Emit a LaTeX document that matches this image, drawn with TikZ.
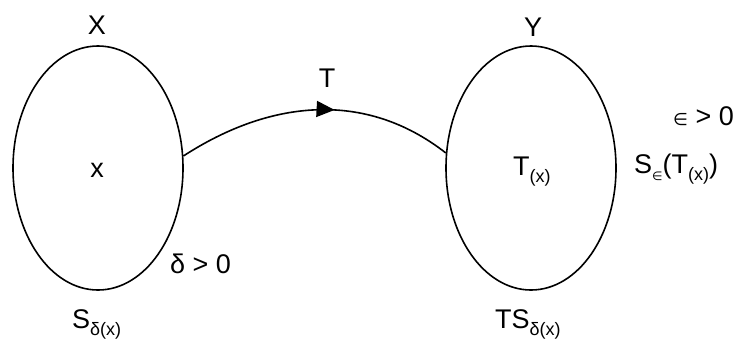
\documentclass[tikz,border=0pt]{standalone}
\usepackage{fontspec}
\setmainfont{Liberation Sans}
\newfontfamily\symfont{DejaVu Sans}
\usetikzlibrary{shapes.geometric,arrows.meta,decorations.markings}
\newcommand\subx[1]{\raisebox{-7pt}{\fontsize{18}{18}\selectfont #1}}
\newcommand\elsym{{\symfont\fontsize{17}{17}\selectfont ∈}}
\newcommand\elsub{{\symfont\fontsize{12}{12}\selectfont ∈}}
\tikzset{
  setbox/.style={draw, ellipse, line width=1.6pt, minimum width=170pt, minimum height=244pt, inner sep=0pt},
  lbl/.style={inner sep=0pt, font=\fontsize{27}{27}\selectfont},
  mapline/.style={line width=1.6pt, postaction={decorate}, decoration={markings, mark=at position 0.57 with {\arrow{Triangle[length=18pt,width=16pt]}}}}
}
\begin{document}
\begin{tikzpicture}[x=1pt,y=-1pt]
\useasboundingbox (0,0) rectangle (735,341);
\node[setbox] (L) at (98,168) {};
\node[setbox] (R) at (531,168) {};
\node[lbl] (lX) at (97,25) {X};
\node[lbl] (lY) at (533,27) {Y};
\node[lbl] (lx) at (97,170) {x};
\node[lbl, anchor=base west] (ld) at (170,273) {δ > 0};
\node[lbl, anchor=base west] (lS) at (72,328) {S\subx{δ(x)}};
\node[lbl, anchor=base west] (lTx) at (513,175) {T\subx{(x)}};
\node[lbl, anchor=base east] (le) at (734,125) {\elsym\ > 0};
\node[lbl, anchor=base west] (lSe) at (634,173) {S\subx{\elsub}(T\subx{(x)})};
\node[lbl, anchor=base west] (lTS) at (495,328) {TS\subx{δ(x)}};
\node[lbl] (lT) at (327,78) {T};
\draw[mapline] (L.8) to[out=33,in=142] (R.170);
\end{tikzpicture}
\end{document}
